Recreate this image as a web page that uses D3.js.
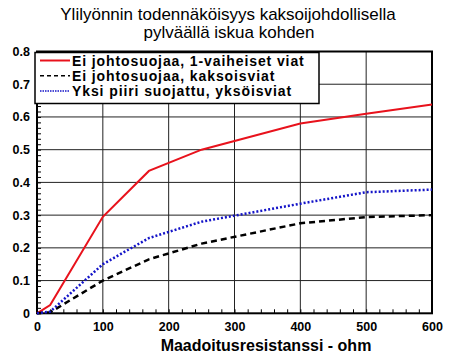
<!DOCTYPE html>
<html>
<head>
<meta charset="utf-8">
<script src="https://cdn.jsdelivr.net/npm/d3@7"></script>
<style>
body { margin: 0; background: #fff; }
text { font-family: Arial, "Liberation Sans", sans-serif; }
</style>
</head>
<body>
<svg id="chart" width="465" height="362"></svg>
<script>
// data
var resistance = [0, 20, 100, 170, 250, 400, 500, 600];
var noShield1ph = [0, 0.025, 0.295, 0.435, 0.5, 0.58, 0.61, 0.638];
var noShieldDouble = [0, 0.003, 0.1, 0.165, 0.213, 0.275, 0.294, 0.3];
var oneShielded = [0, 0.005, 0.15, 0.23, 0.28, 0.335, 0.37, 0.378];
var seriesNames = ["Ei johtosuojaa, 1-vaiheiset viat", "Ei johtosuojaa, kaksoisviat", "Yksi piiri suojattu, yksöisviat"];
var xTicks = [0, 100, 200, 300, 400, 500, 600];
var yTicks = [0, 0.1, 0.2, 0.3, 0.4, 0.5, 0.6, 0.7, 0.8];

var plotLeft = 37, plotRight = 432, plotTop = 51.5, plotBottom = 313.3;

var svg = d3.select("#chart");

var x = d3.scaleLinear().domain([0, 600]).range([plotLeft, plotRight]);
var y = d3.scaleLinear().domain([0, 0.8]).range([plotBottom, plotTop]);

// title
svg.append("text").attr("x", 228).attr("y", 19.5).attr("text-anchor", "middle")
  .style("font-size", "17px").text("Ylilyönnin todennäköisyys kaksoijohdollisella");
svg.append("text").attr("x", 229).attr("y", 37.5).attr("text-anchor", "middle")
  .style("font-size", "17px").text("pylväällä iskua kohden");

// grid
var grid = svg.append("g");
grid.selectAll(".gx").data(xTicks.slice(1, -1)).enter().append("line")
  .attr("x1", function(d){ return x(d); }).attr("x2", function(d){ return x(d); })
  .attr("y1", plotTop).attr("y2", plotBottom).attr("stroke", "#222").attr("stroke-width", 1);
grid.selectAll(".gy").data(yTicks.slice(1, -1)).enter().append("line")
  .attr("y1", function(d){ return y(d); }).attr("y2", function(d){ return y(d); })
  .attr("x1", plotLeft).attr("x2", plotRight).attr("stroke", "#222").attr("stroke-width", 1);

// minor ticks
var xMinor = d3.range(0, 601, 20);
var yMinor = d3.range(0, 0.8001, 0.1 / 6);
svg.append("g").attr("transform", "translate(0," + plotBottom + ")")
  .call(d3.axisBottom(x).tickValues(xMinor).tickSize(-4).tickFormat(""))
  .call(function(g){ g.select(".domain").remove(); g.selectAll("line").attr("stroke", "#000"); });
svg.append("g").attr("transform", "translate(" + plotLeft + ",0)")
  .call(d3.axisLeft(y).tickValues(yMinor).tickSize(-4).tickFormat(""))
  .call(function(g){ g.select(".domain").remove(); g.selectAll("line").attr("stroke", "#000"); });

// major axes labels
var xAxis = svg.append("g").attr("transform", "translate(0," + plotBottom + ")")
  .call(d3.axisBottom(x).tickValues(xTicks).tickSize(0).tickPadding(9).tickFormat(d3.format("d")));
xAxis.select(".domain").remove();
xAxis.selectAll("text").style("font-size", "12.5px").style("font-weight", "bold").attr("fill", "#000");

var yAxis = svg.append("g").attr("transform", "translate(" + plotLeft + ",0)")
  .call(d3.axisLeft(y).tickValues(yTicks).tickSize(0).tickPadding(7)
    .tickFormat(function(d){ return d === 0 ? "0" : d3.format(".1f")(d); }));
yAxis.select(".domain").remove();
yAxis.selectAll("text").style("font-size", "12.5px").style("font-weight", "bold").attr("fill", "#000");

// frame
svg.append("rect").attr("x", plotLeft).attr("y", plotTop).attr("width", plotRight - plotLeft).attr("height", plotBottom - plotTop)
  .attr("fill", "none").attr("stroke", "#000").attr("stroke-width", 2);

// lines
var series = [
  { values: noShield1ph, color: "#e8121c", width: 2, dash: null },
  { values: noShieldDouble, color: "#000", width: 2.5, dash: "6,4" },
  { values: oneShielded, color: "#1414c8", width: 2.5, dash: "2,2" }
];
var line = d3.line().x(function(d, i){ return x(resistance[i]); }).y(function(d){ return y(d); });
svg.selectAll(".series").data(series).enter().append("path")
  .attr("d", function(s){ return line(s.values); })
  .attr("fill", "none").attr("stroke", function(s){ return s.color; })
  .attr("stroke-width", function(s){ return s.width; })
  .attr("stroke-dasharray", function(s){ return s.dash; });

// legend
var legend = svg.append("g");
legend.append("rect").attr("x", 35).attr("y", 52.5).attr("width", 284).attr("height", 51)
  .attr("fill", "#fff").attr("stroke", "#000").attr("stroke-width", 1.5);
var rows = legend.selectAll(".row").data(series).enter().append("g")
  .attr("transform", function(d, i){ return "translate(0," + (60.5 + i * 15.2) + ")"; });
rows.append("line").attr("x1", 40).attr("x2", 70).attr("y1", 0).attr("y2", 0)
  .attr("stroke", function(s){ return s.color; }).attr("stroke-width", function(s, i){ return i === 0 ? 2 : 1.5; })
  .attr("stroke-dasharray", function(s, i){ return i === 1 ? "4,3" : (i === 2 ? "1.5,1" : null); });
rows.append("text").attr("x", 72).attr("y", 5).style("font-size", "14px").style("font-weight", "bold")
  .style("letter-spacing", "0.9px")
  .text(function(d, i){ return seriesNames[i]; });

// axis title
svg.append("text").attr("x", 266).attr("y", 351).attr("text-anchor", "middle")
  .style("font-size", "16px").style("font-weight", "bold").text("Maadoitusresistanssi - ohm");
</script>
</body>
</html>
